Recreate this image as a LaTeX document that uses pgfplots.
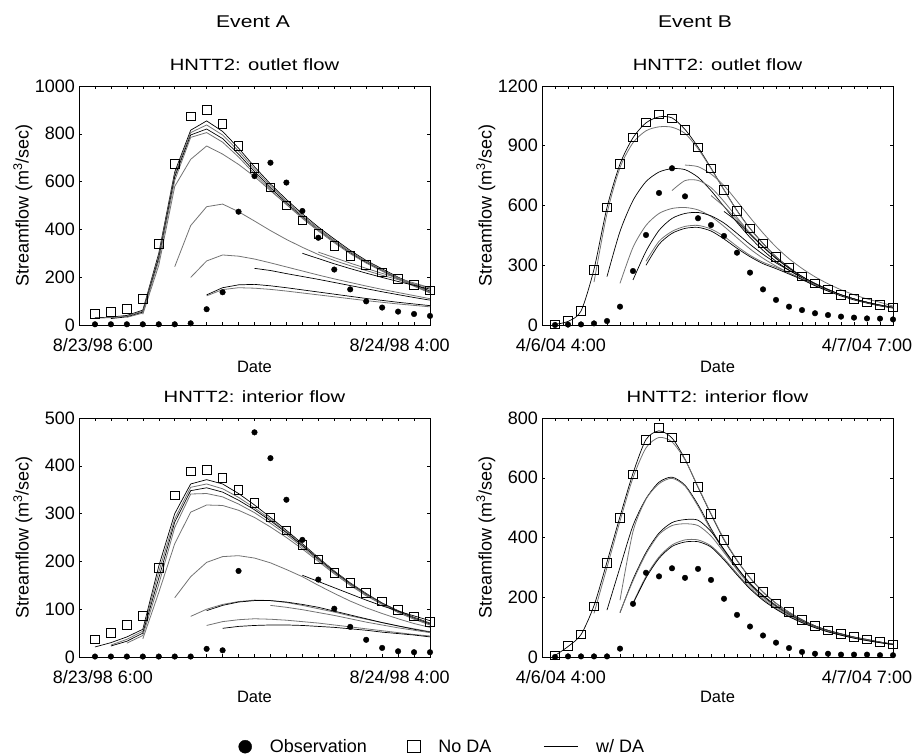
\documentclass[border=0pt]{standalone}
\usepackage{fontspec}
\setmainfont{Liberation Sans}
\newfontfamily\stretchfont{Liberation Sans}[FakeStretch=1.24]
\usepackage{pgfplots}
\pgfplotsset{compat=1.18}
\definecolor{lgray}{RGB}{115,115,115}
\newcommand{\ser}[3]{\addplot[#1] table[row sep=\\, header=false, x expr=\coordindex+#2, y index=0]{#3};}
\pgfplotsset{
 obs/.style={only marks, mark=*, mark size=2.8pt, black, forget plot},
 nod/.style={only marks, mark=square, mark size=4.3pt, black, mark options={line width=0.8pt, fill=none}, forget plot},
 blk/.style={black, line width=0.7pt, no markers, forget plot},
 gry/.style={color=lgray, line width=0.8pt, no markers, forget plot},
 sblk/.style={blk, smooth, tension=0.45},
 sgry/.style={gry, smooth, tension=0.45},
 panel/.style={scale only axis, width=351pt, height=239pt, anchor=south west, clip=false,
   axis line style={line width=0.6pt}, tick align=inside, major tick length=3pt,
   tick style={black, line width=0.5pt},
   /pgf/number format/assume math mode=true, /pgf/number format/1000 sep={},
   tick label style={font=\fontsize{18}{20}\selectfont},
   xticklabels={},
   xticklabel style={anchor=base, yshift=-26.7pt},
   yticklabel style={inner sep=0pt, xshift=-4pt},
   extra x tick style={major tick length=0pt},
   ymin=0,
   title style={font={\stretchfont\fontsize{16.3}{18}\selectfont}, at={(0.5,1)}, anchor=base, yshift=9.2pt, inner sep=0pt},
   ylabel={Streamflow (m\textsuperscript{3}/sec)},
   ylabel style={font=\fontsize{18}{20}\selectfont, at={(axis description cs:-0.16,0.5)}, anchor=center},
   xlabel={Date},
   xlabel style={font=\fontsize{16.5}{18}\selectfont, at={(axis description cs:0.5,-0.197)}, anchor=base},
 },
 evA/.style={panel, xmin=-1, xmax=21, xtick={0,...,20}, extra x ticks={0.5,19.1}, extra x tick labels={8/23/98 6:00,8/24/98 4:00}},
 evB/.style={panel, xmin=-1, xmax=26, xtick={0,...,25}, extra x ticks={0.45,24.0}, extra x tick labels={4/6/04 4:00,4/7/04 7:00}},
}
\begin{document}
\begin{tikzpicture}
\useasboundingbox (0,0) rectangle (915pt,755pt);

% ---------------- Event A outlet ----------------
\begin{axis}[evA, at={(79pt,430pt)}, ymax=1000, ytick={0,200,...,1000}, title={HNTT2: outlet flow}]
\node[font={\stretchfont\fontsize{17}{19}\selectfont}, anchor=base] at (axis description cs:0.496,1.243) {Event A};
\ser{blk}{0}{30\\33\\40\\62\\300\\640\\815\\854\\810\\740\\662\\590\\525\\465\\410\\360\\312\\270\\235\\200\\170\\142\\}
\ser{gry}{0}{28\\31\\37\\58\\290\\630\\805\\837\\795\\728\\652\\582\\518\\458\\404\\354\\307\\266\\231\\197\\167\\139\\}
\ser{blk}{1}{27\\34\\54\\280\\620\\795\\820\\780\\715\\642\\574\\511\\452\\398\\349\\302\\262\\228\\194\\165\\136\\}
\ser{gry}{2}{32\\50\\270\\605\\785\\805\\765\\703\\632\\566\\504\\446\\393\\344\\298\\259\\225\\191\\162\\134\\}
\ser{gry}{3}{45\\250\\580\\693\\749\\715\\672\\621\\562\\505\\450\\398\\350\\305\\265\\230\\197\\166\\137\\}
\ser{gry}{5}{244\\416\\495\\506\\474\\435\\395\\358\\325\\295\\270\\248\\228\\208\\190\\172\\155\\}
\ser{gry}{6}{199\\268\\293\\288\\276\\260\\243\\226\\209\\193\\178\\163\\149\\136\\123\\110\\}
\ser{blk}{7}{126\\156\\168\\170\\164\\156\\147\\138\\129\\120\\111\\103\\95\\88\\81\\}
\ser{gry}{7}{122\\148\\156\\154\\149\\142\\134\\126\\118\\110\\102\\95\\88\\82\\76\\}
\ser{blk}{10}{237\\228\\215\\203\\191\\178\\165\\152\\139\\127\\115\\104\\}
\ser{blk}{13}{300\\278\\256\\236\\217\\199\\182\\166\\150\\}
\ser{gry}{14}{305\\282\\259\\237\\216\\196\\176\\156\\}
\ser{nod}{0}{46\\56\\67\\110\\339\\674\\872\\900\\842\\749\\658\\575\\501\\437\\381\\331\\289\\252\\220\\194\\169\\144\\}
\ser{obs}{0}{3\\3\\3\\3\\3\\3\\7\\66\\137\\474\\623\\679\\596\\477\\365\\232\\149\\99\\73\\56\\46\\38\\}
\end{axis}

% ---------------- Event B outlet ----------------
\begin{axis}[evB, at={(542pt,430pt)}, ymax=1200, ytick={0,300,...,1200}, title={HNTT2: outlet flow}]
\node[font={\stretchfont\fontsize{17}{19}\selectfont}, anchor=base] at (axis description cs:0.436,1.243) {Event B};
\ser{sblk}{0}{3\\18\\70\\280\\590\\808\\940\\1015\\1045\\1040\\982\\893\\788\\679\\575\\485\\410\\343\\290\\243\\209\\179\\151\\131\\114\\100\\89\\}
\ser{sgry}{3}{215\\560\\790\\915\\975\\995\\993\\962\\885\\785\\678\\573\\484\\408\\342\\288\\242\\207\\177\\151\\130\\113\\99\\88\\}
\ser{sblk}{4}{243\\470\\625\\720\\768\\785\\780\\742\\675\\595\\515\\440\\375\\320\\275\\237\\203\\174\\150\\130\\113\\99\\88\\}
\ser{sgry}{5}{209\\390\\500\\560\\585\\590\\578\\545\\495\\438\\382\\335\\296\\262\\230\\199\\173\\150\\130\\113\\99\\87\\}
\ser{sblk}{6}{226\\370\\475\\535\\560\\565\\548\\512\\460\\405\\355\\312\\275\\240\\205\\176\\151\\131\\114\\99\\88\\}
\ser{sgry}{7}{320\\420\\470\\495\\500\\482\\445\\395\\350\\315\\290\\262\\232\\200\\172\\148\\128\\111\\97\\86\\}
\ser{sblk}{7}{300\\405\\460\\485\\490\\472\\432\\385\\343\\308\\283\\256\\228\\197\\170\\146\\126\\110\\96\\85\\}
\ser{sgry}{9}{675\\725\\726\\690\\620\\540\\462\\395\\335\\285\\242\\206\\176\\151\\130\\113\\99\\88\\}
\ser{sgry}{10}{803\\795\\758\\700\\622\\540\\462\\392\\333\\284\\242\\207\\177\\152\\131\\114\\95\\}
\ser{sgry}{12}{650\\595\\530\\460\\395\\335\\285\\243\\207\\177\\151\\130\\113\\99\\88\\}
\ser{sblk}{13}{570\\520\\455\\392\\335\\286\\244\\208\\178\\152\\131\\114\\100\\89\\}
\ser{nod}{0}{3\\20\\72\\276\\591\\808\\942\\1018\\1058\\1038\\979\\892\\787\\678\\574\\485\\410\\343\\290\\243\\209\\179\\151\\131\\114\\100\\89\\}
\ser{obs}{0}{0\\2\\3\\8\\20\\92\\271\\452\\663\\787\\646\\536\\502\\447\\363\\263\\179\\126\\92\\75\\59\\50\\42\\37\\33\\32\\28\\}
\end{axis}

% ---------------- Event A interior ----------------
\begin{axis}[evA, at={(79pt,98pt)}, ymax=500, ytick={0,100,...,500}, title={HNTT2: interior flow},
  xlabel style={at={(axis description cs:0.5,-0.192)}},
  legend style={draw=none, fill=none, legend columns=3, at={(axis description cs:0.4544,-0.3753)}, anchor=west,
    inner sep=0pt, outer sep=0pt, nodes={inner sep=0pt, font=\fontsize{18}{20}\selectfont},
    /tikz/every odd column/.append style={column sep=18pt},
    /tikz/column 2/.append style={column sep=40.5pt},
    /tikz/column 4/.append style={column sep=52pt}}]
\addlegendimage{legend image code/.code={\fill[black] (6.5pt,0pt) circle (6.5pt);}}
\addlegendentry{Observation}
\addlegendimage{legend image code/.code={\draw[black, line width=0.8pt] (0.4pt,-6.1pt) rectangle (12.6pt,6.1pt);}}
\addlegendentry{No DA}
\addlegendimage{legend image code/.code={\draw[black, line width=0.7pt] (0pt,0pt) -- (34pt,0pt);}}
\addlegendentry{w/ DA}
\ser{blk}{0}{21\\30\\42\\58\\190\\300\\362\\371\\362\\342\\318\\292\\265\\237\\208\\180\\155\\133\\113\\97\\83\\71\\}
\ser{gry}{1}{25\\37\\54\\178\\289\\355\\362\\352\\334\\312\\288\\262\\235\\207\\179\\154\\132\\112\\96\\82\\70\\}
\ser{blk}{1}{23\\33\\50\\165\\282\\348\\354\\345\\328\\308\\285\\260\\233\\205\\178\\153\\131\\112\\95\\81\\69\\}
\ser{gry}{2}{29\\45\\152\\271\\341\\342\\335\\320\\302\\280\\256\\230\\203\\176\\152\\130\\111\\94\\80\\68\\}
\ser{gry}{3}{38\\135\\237\\303\\318\\317\\307\\292\\272\\250\\226\\200\\174\\150\\128\\110\\93\\79\\67\\}
\ser{gry}{5}{124\\168\\198\\210\\212\\207\\197\\183\\168\\150\\133\\117\\103\\91\\80\\70\\62\\}
\ser{gry}{6}{85\\100\\110\\116\\119\\118\\114\\108\\101\\94\\86\\79\\72\\65\\59\\53\\}
\ser{blk}{7}{97\\108\\115\\118\\118\\115\\110\\104\\96\\88\\80\\72\\65\\58\\52\\}
\ser{gry}{11}{108\\104\\99\\93\\87\\80\\73\\67\\61\\56\\51\\}
\ser{gry}{7}{66\\74\\78\\80\\79\\77\\74\\71\\67\\63\\59\\55\\51\\47\\44\\}
\ser{blk}{8}{60\\64\\66\\67\\67\\66\\64\\62\\59\\56\\52\\49\\46\\42\\}
\ser{blk}{13}{171\\158\\145\\132\\119\\107\\96\\86\\76\\}
\ser{nod}{0}{37\\50\\67\\86\\186\\338\\388\\391\\375\\350\\323\\292\\265\\235\\204\\176\\155\\134\\116\\99\\85\\73\\}
\ser{obs}{0}{1\\1\\1\\1\\1\\1\\1\\17\\14\\180\\470\\416\\329\\245\\162\\101\\63\\36\\19\\12\\10\\10\\}
\end{axis}

% ---------------- Event B interior ----------------
\begin{axis}[evB, at={(542pt,98pt)}, ymax=800, ytick={0,200,...,800}, title={HNTT2: interior flow},
  xlabel style={at={(axis description cs:0.5,-0.192)}}]
\ser{sblk}{0}{5\\35\\75\\172\\318\\470\\615\\728\\757\\733\\662\\568\\478\\392\\323\\265\\217\\180\\150\\125\\104\\89\\78\\67\\59\\50\\42\\}
\ser{sgry}{3}{146\\300\\455\\600\\700\\735\\720\\660\\570\\480\\395\\325\\265\\218\\180\\150\\125\\104\\89\\77\\66\\58\\50\\43\\}
\ser{sblk}{4}{157\\300\\440\\530\\585\\602\\575\\510\\430\\358\\298\\247\\206\\173\\146\\123\\104\\89\\77\\66\\57\\50\\43\\}
\ser{sgry}{5}{190\\420\\528\\580\\598\\572\\505\\425\\355\\295\\245\\205\\172\\145\\122\\103\\88\\76\\66\\57\\49\\42\\}
\ser{sblk}{5}{148\\260\\350\\415\\450\\460\\458\\420\\360\\300\\245\\205\\170\\142\\120\\101\\87\\75\\65\\56\\49\\42\\}
\ser{sgry}{5}{150\\255\\345\\410\\440\\446\\440\\405\\350\\292\\240\\200\\168\\140\\118\\100\\86\\74\\64\\56\\49\\42\\}
\ser{sgry}{6}{181\\270\\335\\375\\392\\392\\372\\330\\280\\232\\194\\163\\137\\116\\99\\85\\73\\64\\55\\48\\42\\}
\ser{sblk}{6}{178\\265\\330\\370\\385\\386\\368\\325\\275\\228\\190\\160\\135\\115\\98\\84\\73\\63\\55\\48\\42\\}
\ser{nod}{0}{6\\37\\76\\170\\314\\466\\611\\726\\766\\735\\665\\570\\479\\392\\323\\265\\217\\180\\150\\125\\104\\89\\78\\67\\59\\50\\42\\}
\ser{obs}{0}{0\\2\\2\\2\\2\\28\\178\\282\\270\\297\\265\\295\\258\\195\\141\\102\\72\\48\\30\\17\\11\\11\\8\\8\\8\\6\\6\\}
\end{axis}
\end{tikzpicture}
\end{document}
